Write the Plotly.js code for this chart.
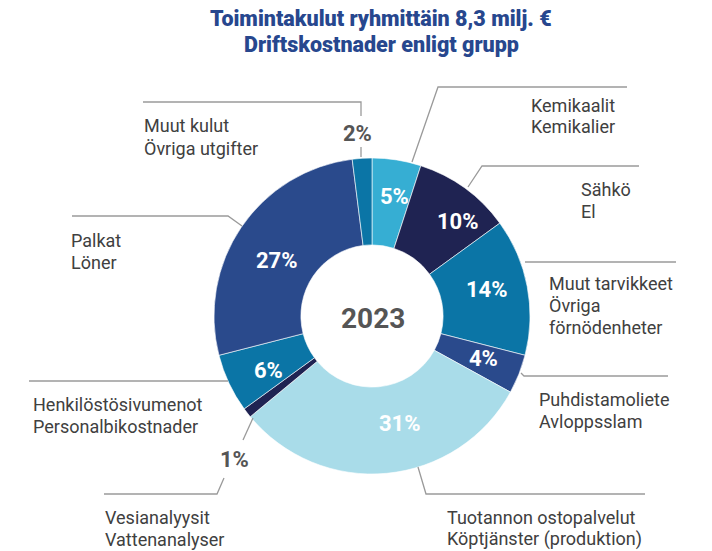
<!DOCTYPE html>
<html>
<head>
<meta charset="utf-8">
<script src="https://cdn.plot.ly/plotly-3.0.1.min.js"></script>
<style>html,body{margin:0;padding:0;background:#fff;}#chart{width:712px;height:551px;}</style>
</head>
<body>
<div id="chart"></div>
<script>
// ---- data ----
const categoriesFi = ["Kemikaalit", "Sähkö", "Muut tarvikkeet", "Puhdistamoliete", "Tuotannon ostopalvelut", "Vesianalyysit", "Henkilöstösivumenot", "Palkat", "Muut kulut"];
const categoriesSv = ["Kemikalier", "El", "Övriga|förnödenheter", "Avloppsslam", "Köptjänster (produktion)", "Vattenanalyser", "Personalbikostnader", "Löner", "Övriga utgifter"];
const values = [5, 10, 14, 4, 31, 1, 6, 27, 2];
const sliceColors = ["#36AED3", "#1F2352", "#0B75A6", "#2A4A8C", "#A9DCE9", "#1F2352", "#0B75A6", "#2A4A8C", "#0B75A6"];
const yearLabel = "2023";
const titleLines = ["Toimintakulut ryhmittäin 8,3 milj. €", "Driftskostnader enligt grupp"];

// ---- layout helpers ----
const W = 712, H = 551;
const px = x => x / W;
const py = y => 1 - y / H;
const cx = 372, cy = 316, R = 158;
const LINE = 22;

// label placement (layout only): left x, first-line centre y, leader path in pixels
const labelLayout = [
  {x: 529, y: 104, path: [[412,162],[438,87],[627,87]]},
  {x: 579, y: 188, path: [[468,187],[482,166],[639,166]]},
  {x: 547, y: 282, path: [[525,262],[676,262]]},
  {x: 537, y: 398, path: [[521,373],[524,376],[668,376]]},
  {x: 445, y: 516, path: [[418,467],[426,494],[645,494]]},
  {x: 103, y: 516, path: [[224,478],[217,494],[104,494]], extra: [[253,418],[243,440]]},
  {x: 31,  y: 403, path: [[29,381],[228,381]]},
  {x: 69,  y: 240, path: [[72,216],[228,216],[242,226]]},
  {x: 142, y: 125, path: [[143,102],[361,102],[361,116]], extra: [[361,147],[361,157]]}
];
// percentage label placement (layout only), center in pixels; inside = white, outside = grey
const pctLayout = [
  {x: 394, y: 196, inside: true},
  {x: 458, y: 221, inside: true},
  {x: 487, y: 289, inside: true},
  {x: 483, y: 358, inside: true},
  {x: 400, y: 423, inside: true},
  {x: 234, y: 459, inside: false},
  {x: 268, y: 370, inside: true},
  {x: 277, y: 260, inside: true},
  {x: 357, y: 134, inside: false}
];

const trace = {
  type: 'pie',
  values: values,
  labels: categoriesFi,
  marker: {colors: sliceColors, line: {color: '#ffffff', width: 0.6}},
  hole: 0.45,
  sort: false,
  direction: 'clockwise',
  rotation: 0,
  textinfo: 'none',
  domain: {x: [px(cx - R), px(cx + R)], y: [py(cy + R), py(cy - R)]},
  showlegend: false,
  hoverinfo: 'label+percent'
};

const toPath = pts => pts.map((p, k) => (k ? 'L' : 'M') + px(p[0]) + ',' + py(p[1])).join(' ');

const shapes = [];
labelLayout.forEach(l => {
  shapes.push({type: 'path', xref: 'paper', yref: 'paper', path: toPath(l.path), line: {color: '#9a9a9a', width: 1.3}});
  if (l.extra) shapes.push({type: 'path', xref: 'paper', yref: 'paper', path: toPath(l.extra), line: {color: '#9a9a9a', width: 1.3}});
});

const annotations = [];
categoriesFi.forEach((c, i) => {
  const lines = [c].concat(categoriesSv[i].split('|'));
  lines.forEach((t, k) => {
    annotations.push({
      xref: 'paper', yref: 'paper', x: px(labelLayout[i].x), y: py(labelLayout[i].y + 1 + LINE * k),
      xanchor: 'left', yanchor: 'middle', align: 'left', showarrow: false,
      text: t,
      font: {family: 'Roboto', size: 18, color: '#404040'}
    });
  });
  const p = pctLayout[i];
  annotations.push({
    xref: 'paper', yref: 'paper', x: px(p.x), y: py(p.y),
    xanchor: 'center', yanchor: 'middle', showarrow: false,
    text: values[i] + '%',
    font: p.inside ? {family: 'Roboto', size: 22, color: '#ffffff', weight: 700}
                   : {family: 'Roboto', size: 22, color: '#555555', weight: 700}
  });
});
annotations.push({
  xref: 'paper', yref: 'paper', x: px(cx + 1), y: py(cy + 2),
  xanchor: 'center', yanchor: 'middle', showarrow: false,
  text: yearLabel,
  font: {family: 'Roboto', size: 28, color: '#555555', weight: 700}
});
titleLines.forEach((t, k) => {
  annotations.push({
    xref: 'paper', yref: 'paper', x: px(381), y: py(19 + 26 * k),
    xanchor: 'center', yanchor: 'middle', showarrow: false,
    text: t,
    font: {family: 'Roboto', size: 21.5, color: '#27478E', weight: 900}
  });
});

const layout = {
  width: W, height: H,
  margin: {l: 0, r: 0, t: 0, b: 0},
  paper_bgcolor: '#ffffff',
  shapes: shapes,
  annotations: annotations
};

Plotly.newPlot('chart', [trace], layout, {displayModeBar: false, staticPlot: true});
</script>
</body>
</html>
